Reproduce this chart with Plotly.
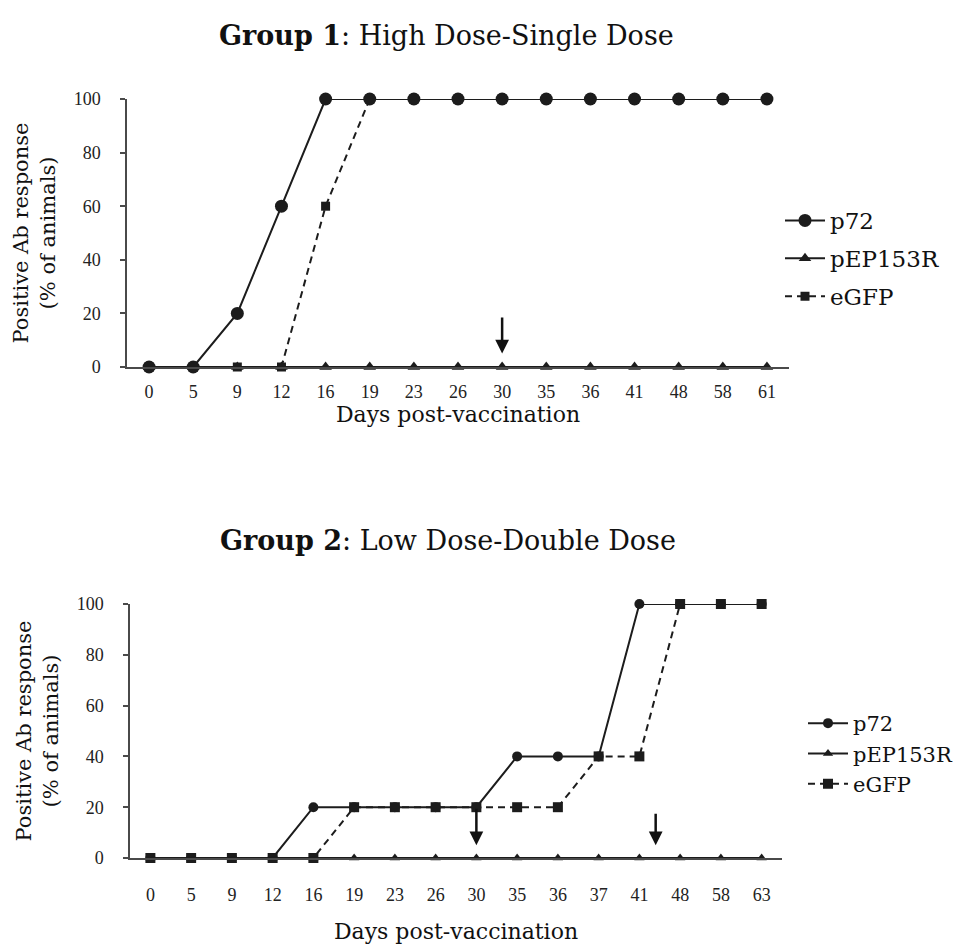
import plotly.graph_objects as go

# ---------------- data ----------------
days_g1 = ["0", "5", "9", "12", "16", "19", "23", "26", "30", "35", "36", "41", "48", "58", "61"]
p72_g1 = [0, 0, 20, 60, 100, 100, 100, 100, 100, 100, 100, 100, 100, 100, 100]
pep_g1 = [0, 0, 0, 0, 0, 0, 0, 0, 0, 0, 0, 0, 0, 0, 0]
egfp_g1 = [0, 0, 0, 0, 60, 100, 100, 100, 100, 100, 100, 100, 100, 100, 100]

days_g2 = ["0", "5", "9", "12", "16", "19", "23", "26", "30", "35", "36", "37", "41", "48", "58", "63"]
p72_g2 = [0, 0, 0, 0, 20, 20, 20, 20, 20, 40, 40, 40, 100, 100, 100, 100]
pep_g2 = [0, 0, 0, 0, 0, 0, 0, 0, 0, 0, 0, 0, 0, 0, 0, 0]
egfp_g2 = [0, 0, 0, 0, 0, 20, 20, 20, 20, 20, 20, 40, 40, 100, 100, 100]

y_ticks = [0, 20, 40, 60, 80, 100]

# vaccination arrows: (category position, arrow tail value)
arrows_g1 = [(8, 19)]
arrows_g2 = [(8, 20), (12.4, 18)]

title_g1 = "<b>Group 1</b>: High Dose-Single Dose"
title_g2 = "<b>Group 2</b>: Low Dose-Double Dose"

# ---------------- style ----------------
INK = "#1c1c1c"
AX = "#4a4a4a"
SERIF = "DejaVu Serif"
TICKF = "Liberation Serif"
OFF = 8                      # page body margin
W, H = 969 - 2 * OFF, 952 - 2 * OFF

def px(x):
    return (x - OFF) / W

def py(y):
    return 1 - (y - OFF) / H

fig = go.Figure()

def add_group(xa, ya, days, p72, pep, egfp, legend, msz, order):
    traces = {
        "p72": go.Scatter(x=days, y=p72, name="p72", mode="lines+markers",
                          line=dict(color=INK, width=2),
                          marker=dict(symbol="circle", size=msz[0], color=INK),
                          xaxis=xa, yaxis=ya, legend=legend, legendgroup=legend + "a",
                          legendrank=1, cliponaxis=False),
        "pep": go.Scatter(x=days, y=pep, name="pEP153R", mode="lines+markers",
                          line=dict(color=INK, width=2),
                          marker=dict(symbol="triangle-up", size=msz[1], color=INK),
                          xaxis=xa, yaxis=ya, legend=legend, legendgroup=legend + "b",
                          legendrank=2, cliponaxis=False),
        "egfp": go.Scatter(x=days, y=egfp, name="eGFP", mode="lines+markers",
                           line=dict(color=INK, width=2, dash="7px,5px"),
                           marker=dict(symbol="square", size=msz[2], color=INK),
                           xaxis=xa, yaxis=ya, legend=legend, legendgroup=legend + "c",
                           legendrank=3, cliponaxis=False),
    }
    for k in order:
        fig.add_trace(traces[k])

add_group("x", "y", days_g1, p72_g1, pep_g1, egfp_g1, "legend", (13, 11, 9), ["pep", "egfp", "p72"])
add_group("x2", "y2", days_g2, p72_g2, pep_g2, egfp_g2, "legend2", (10, 9, 10), ["pep", "p72", "egfp"])

def xaxis_cfg(n, dom, standoff, title_standoff):
    return dict(domain=dom, type="category", range=[-0.5, n - 0.5], automargin=False,
                showline=True, linecolor=AX, linewidth=1.5, showgrid=False,
                zeroline=False, ticks="", ticklabelstandoff=standoff,
                tickfont=dict(family=TICKF, size=18, color="#222"),
                title=dict(text="Days post-vaccination",
                           font=dict(family=SERIF, size=22, color="#111"), standoff=title_standoff),
                fixedrange=True)

def yaxis_cfg(dom, anchor):
    return dict(domain=dom, anchor=anchor, range=[0, 100], tickvals=y_ticks, automargin=False,
                showline=True, linecolor=AX, linewidth=1.5, showgrid=False,
                zeroline=False, ticks="outside", ticklen=5, tickwidth=1.5, tickcolor=AX,
                ticklabelstandoff=16,
                tickfont=dict(family=TICKF, size=18, color="#222"),
                title=dict(text="Positive Ab response<br>(% of animals)",
                           font=dict(family=SERIF, size=21, color="#111"), standoff=12),
                fixedrange=True)

xd1 = [px(127), px(789)]
yd1 = [py(367), py(99)]
xd2 = [px(130), px(782)]
yd2 = [py(858), py(604)]

fig.update_layout(
    template="none",
    width=W, height=H, margin=dict(l=0, r=0, t=0, b=0, autoexpand=False),
    paper_bgcolor="white", plot_bgcolor="white",
    xaxis=dict(xaxis_cfg(len(days_g1), xd1, 8, 0), anchor="y"),
    yaxis=yaxis_cfg(yd1, "x"),
    xaxis2=dict(xaxis_cfg(len(days_g2), xd2, 20, 29), anchor="y2"),
    yaxis2=yaxis_cfg(yd2, "x2"),
    # overlay axes giving inward half of crossing tick marks
    yaxis3=dict(overlaying="y", anchor="x", range=[0, 100], tickvals=y_ticks, ticks="inside",
                ticklen=5, tickwidth=1.5, tickcolor=AX, showticklabels=False, automargin=False,
                showgrid=False, zeroline=False, showline=False, fixedrange=True),
    yaxis4=dict(overlaying="y2", anchor="x2", range=[0, 100], tickvals=y_ticks, ticks="inside",
                ticklen=5, tickwidth=1.5, tickcolor=AX, showticklabels=False, automargin=False,
                showgrid=False, zeroline=False, showline=False, fixedrange=True),
    legend=dict(x=px(780), y=py(199), xanchor="left", yanchor="top",
                font=dict(family=SERIF, size=23, color="#111"), tracegroupgap=5,
                bgcolor="rgba(0,0,0,0)", itemwidth=40, traceorder="grouped"),
    legend2=dict(x=px(803), y=py(703), xanchor="left", yanchor="top",
                 font=dict(family=SERIF, size=21, color="#111"), tracegroupgap=0,
                 bgcolor="rgba(0,0,0,0)", itemwidth=40, traceorder="grouped"),
    showlegend=True,
)

annotations = [
    dict(text=title_g1, x=px(446), y=py(35), xref="paper", yref="paper", showarrow=False,
         font=dict(family=SERIF, size=27, color="#111"), xanchor="center", yanchor="middle"),
    dict(text=title_g2, x=px(448), y=py(540), xref="paper", yref="paper", showarrow=False,
         font=dict(family=SERIF, size=27, color="#111"), xanchor="center", yanchor="middle"),
]
for xpos, tail in arrows_g1:
    annotations.append(dict(x=xpos, y=5, ax=xpos, ay=tail, xref="x", yref="y", axref="x", ayref="y",
                            showarrow=True, arrowhead=2, arrowsize=1.1, arrowwidth=2.5,
                            arrowcolor="#111", text=""))
for xpos, tail in arrows_g2:
    annotations.append(dict(x=xpos, y=5, ax=xpos, ay=tail, xref="x2", yref="y2", axref="x2", ayref="y2",
                            showarrow=True, arrowhead=2, arrowsize=1.1, arrowwidth=2.5,
                            arrowcolor="#111", text=""))
fig.update_layout(annotations=annotations)

fig.write_html("out.html")
